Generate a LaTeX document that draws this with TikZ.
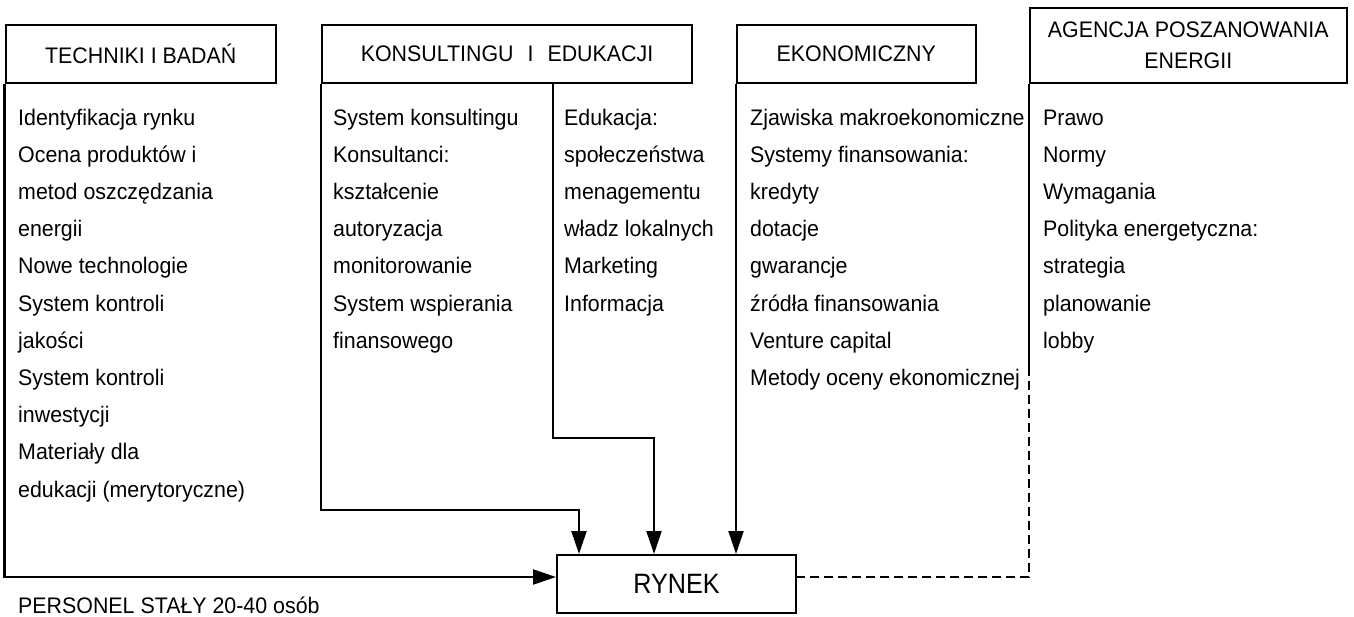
\documentclass[tikz,border=0pt]{standalone}
\usepackage{fontspec}
\setmainfont{Liberation Sans}[FakeStretch=0.95]
\usetikzlibrary{arrows.meta}
\begin{document}
\begin{tikzpicture}[x=1pt,y=-1pt,
  txt/.style={font=\fontsize{22.5}{31}\selectfont},
  hdr/.style={txt, draw, line width=2pt, inner sep=0pt, anchor=north west, align=center},
  item/.style={txt, anchor=base west, inner sep=0pt},
  conn/.style={line width=2.1pt},
  arr/.style={conn, -{Triangle[length=23pt,width=15pt]}},
  dashconn/.style={line width=2pt, dash pattern=on 9pt off 5pt}]
\useasboundingbox (0,0) rectangle (1354,616);

% headers
\node[hdr, minimum width=270.5pt, minimum height=58pt] (h1) at (4.5,24) {TECHNIKI I BADAŃ};
\node[hdr, minimum width=370pt, minimum height=58pt] (h2) at (321,24) {KONSULTINGU\hspace{14pt}I\hspace{14pt}EDUKACJI};
\node[hdr, minimum width=238.5pt, minimum height=58pt] (h3) at (736,24) {EKONOMICZNY};
\node[hdr, minimum width=316.5pt, minimum height=75pt] (h4) at (1029,7) {AGENCJA POSZANOWANIA\\ENERGII};

% market
\node[draw, line width=2pt, inner sep=0pt, anchor=north west, minimum width=239pt, minimum height=58pt,
      font=\fontsize{28}{30}\selectfont\addfontfeature{FakeStretch=0.9}] (ryn) at (556,554) {RYNEK};

% column texts
\foreach \t [count=\i] in {Identyfikacja rynku, Ocena produktów i, metod oszczędzania, energii,
  Nowe technologie, System kontroli, jakości, System kontroli, inwestycji, Materiały dla,
  edukacji (merytoryczne)}
  \node[item] (ca\i) at (18,125+37.2*\i-37.2) {\t};
\foreach \t [count=\i] in {System konsultingu, Konsultanci:, kształcenie, autoryzacja,
  monitorowanie, System wspierania, finansowego}
  \node[item] (cb\i) at (333,125+37.2*\i-37.2) {\t};
\foreach \t [count=\i] in {Edukacja:, społeczeństwa, menagementu, władz lokalnych,
  Marketing, Informacja}
  \node[item] (cc\i) at (564,125+37.2*\i-37.2) {\t};
\foreach \t [count=\i] in {Zjawiska makroekonomiczne, Systemy finansowania:, kredyty, dotacje,
  gwarancje, źródła finansowania, Venture capital, Metody oceny ekonomicznej}
  \node[item] (cd\i) at (750,125+37.2*\i-37.2) {\t};
\foreach \t [count=\i] in {Prawo, Normy, Wymagania, Polityka energetyczna:, strategia,
  planowanie, lobby}
  \node[item] (ce\i) at (1043,125+37.2*\i-37.2) {\t};

\node[item] (staff) at (18,613) {PERSONEL STAŁY 20-40 osób};

% helper coordinates
\path (h2.south west) ++(232,0) coordinate (d0);
\path (ryn.north) ++(-97.5,0) coordinate (a1);
\path (ryn.north) ++(-22.5,0) coordinate (a2);
\path (h2.south west) ++(0,426) coordinate (k1);
\path (d0) ++(0,354) coordinate (k2);
\path (h4.south west) ++(0,283) coordinate (m4);

% connectors
\draw[arr] (h1.south west) |- ([yshift=7pt]ryn.west);
\draw[arr] (h2.south west) -- (k1) -| (a1);
\draw[arr] (d0) -- (k2) -| (a2);
\draw[arr] (h3.south west) -- (h3.south west |- ryn.north);
\draw[conn] (h4.south west) -- (m4);
\draw[dashconn] (m4) |- ([yshift=7pt]ryn.east);
\end{tikzpicture}
\end{document}
